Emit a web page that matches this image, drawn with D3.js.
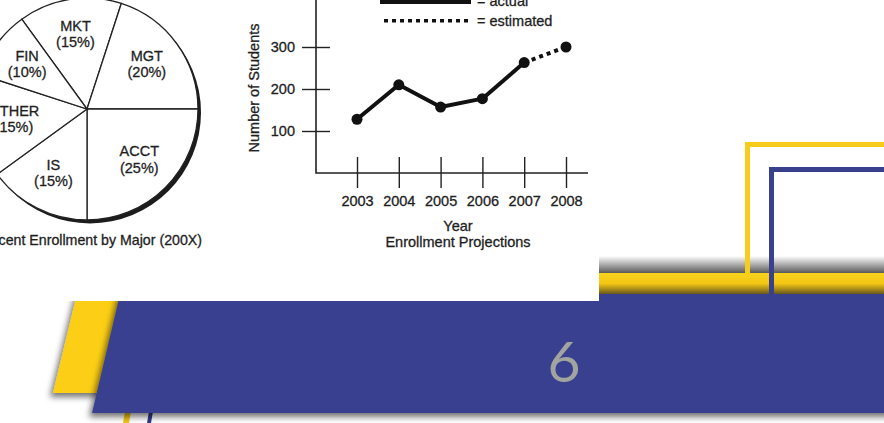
<!DOCTYPE html>
<html>
<head>
<meta charset="utf-8">
<script src="https://cdn.jsdelivr.net/npm/d3@7"></script>
<style>
  html,body{margin:0;padding:0;background:#fff;overflow:hidden;}
  svg{display:block;}
  .lbl{font-family:"Liberation Sans",Arial,sans-serif;font-size:14.5px;fill:#1e1e1e;stroke:#1e1e1e;stroke-width:0.3px;}
</style>
</head>
<body>
<script>
// pie data
const majors = ["MKT", "MGT", "ACCT", "IS", "OTHER", "FIN"];
const shares = [15, 20, 25, 15, 15, 10];

// line data
const years = [2003, 2004, 2005, 2006, 2007, 2008];
const students = [128, 210, 157, 177, 263, 300];
const lastActualYear = 2007;
const yTicks = [100, 200, 300];

const W = 884, H = 423;
const svg = d3.select("body").append("svg")
    .attr("width", W)
    .attr("height", H);

const defs = svg.append("defs");

// gradients and shadow for the slide decoration
let g1 = defs.append("linearGradient").attr("id", "shade").attr("x1", 0).attr("y1", 0).attr("x2", 0).attr("y2", 1);
g1.append("stop").attr("offset", "0%").attr("stop-color", "#fff");
g1.append("stop").attr("offset", "100%").attr("stop-color", "#5a5a5a");

let g2 = defs.append("linearGradient").attr("id", "ybar").attr("x1", 0).attr("y1", 0).attr("x2", 0).attr("y2", 1);
g2.append("stop").attr("offset", "0%").attr("stop-color", "#fad41e");
g2.append("stop").attr("offset", "50%").attr("stop-color", "#f3c614");
g2.append("stop").attr("offset", "100%").attr("stop-color", "#6b5a1e");

let f = defs.append("filter").attr("id", "drop").attr("x", "-20%").attr("y", "-20%").attr("width", "140%").attr("height", "150%");
f.append("feDropShadow").attr("dx", -3).attr("dy", 4).attr("stdDeviation", 3)
    .attr("flood-color", "#000").attr("flood-opacity", 0.55);

// slide decoration
svg.append("rect").attr("x", 100).attr("y", 256).attr("width", W).attr("height", 17).attr("fill", "url(#shade)");
svg.append("path").attr("d", "M747.5,273V144.5H890").attr("fill", "none").attr("stroke", "#f6cd1d").attr("stroke-width", 5);
svg.append("rect").attr("x", 100).attr("y", 273).attr("width", W).attr("height", 21).attr("fill", "url(#ybar)");

// small strokes under the band
svg.append("path").attr("d", "M127,400L133,400L129,423L123,423Z").attr("fill", "#f2c519");
svg.append("path").attr("d", "M151,400L155,400L151,423L147,423Z").attr("fill", "#2f3a86");

// slanted yellow tab + blue band
svg.append("path").attr("d", "M77,294L130,294L108,393L53,393Z")
    .attr("fill", "#fccf12").attr("filter", "url(#drop)");
svg.append("path").attr("d", "M120,294L900,294L900,413L92,413Z")
    .attr("fill", "#38418f").attr("filter", "url(#drop)");
svg.append("path").attr("d", "M771.5,300V169.5H890").attr("fill", "none").attr("stroke", "#3a418c").attr("stroke-width", 5);

svg.append("text")
    .attr("x", 564).attr("y", 382)
    .attr("text-anchor", "middle")
    .attr("font-family", "Lato, 'Open Sans', sans-serif")
    .attr("font-size", 57)
    .attr("fill", "#a2a49f")
    .text("6");

// the pasted picture
svg.append("rect").attr("x", 0).attr("y", 0).attr("width", 599).attr("height", 301).attr("fill", "#fff");

// ---------- pie ----------
const pieData = majors.map((m, i) => ({ major: m, share: shares[i] }));
const R = 111;
const pie = d3.pie().sort(null).value(d => d.share)
    .startAngle(-36 * Math.PI / 180)
    .endAngle(324 * Math.PI / 180);
const arc = d3.arc().innerRadius(0).outerRadius(R);
const labelArc = d3.arc().innerRadius(74).outerRadius(74);

const pg = svg.append("g").attr("transform", "translate(87,109)");
pg.append("circle").attr("cx", 3).attr("cy", 3.5).attr("r", R).attr("fill", "#1c1c1c");
pg.selectAll("path.slice")
    .data(pie(pieData))
    .enter()
    .append("path")
    .attr("class", "slice")
    .attr("d", arc)
    .attr("fill", "#fff")
    .attr("stroke", "#222")
    .attr("stroke-width", 1.3);

let lab = pg.selectAll("text.pl")
    .data(pie(pieData))
    .enter()
    .append("text")
    .attr("class", "lbl pl")
    .attr("text-anchor", "middle")
    .attr("transform", d => `translate(${labelArc.centroid(d)})`);
lab.append("tspan").attr("x", 0).attr("y", -5).text(d => d.data.major);
lab.append("tspan").attr("x", 0).attr("y", 11.5).text(d => `(${d.data.share}%)`);

svg.append("text")
    .attr("class", "lbl")
    .attr("x", 202).attr("y", 245)
    .attr("text-anchor", "end")
    .style("font-size", "14.2px")
    .text("Percent Enrollment by Major (200X)");

// ---------- line chart ----------
const x = d3.scaleLinear().domain([2003, 2008]).range([357, 566]);
const y = d3.scaleLinear().domain([0, 300]).range([173, 47]);

// axis frame
svg.append("path")
    .attr("d", `M316,0V${y(0)}H588`)
    .attr("fill", "none").attr("stroke", "#222").attr("stroke-width", 1.6);

let yAxis = svg.append("g")
    .attr("transform", "translate(316,0)")
    .call(d3.axisLeft(y).tickValues(yTicks).tickSize(14).tickPadding(7));
yAxis.select(".domain").remove();
yAxis.selectAll("line").attr("x1", -14).attr("x2", 14).attr("stroke", "#222").attr("stroke-width", 1.4);
yAxis.selectAll("text").attr("class", "lbl").attr("fill", null);
yAxis.attr("font-size", null).attr("font-family", null);

let xAxis = svg.append("g")
    .attr("transform", `translate(0,${y(0)})`)
    .call(d3.axisBottom(x).tickValues(years).tickFormat(d3.format("d")).tickSize(15));
xAxis.select(".domain").remove();
xAxis.selectAll("line").attr("y1", -16).attr("y2", 15).attr("stroke", "#222").attr("stroke-width", 1.4);
xAxis.selectAll("text").attr("class", "lbl").attr("fill", null).attr("y", 22.7);
xAxis.attr("font-size", null).attr("font-family", null);

// titles
svg.append("text")
    .attr("class", "lbl")
    .attr("transform", "translate(259,88) rotate(-90)")
    .attr("text-anchor", "middle")
    .text("Number of Students");
svg.append("text").attr("class", "lbl").attr("x", 458).attr("y", 231).attr("text-anchor", "middle").text("Year");
svg.append("text").attr("class", "lbl").attr("x", 458).attr("y", 246.5).attr("text-anchor", "middle").text("Enrollment Projections");

// lines
const pts = years.map((yr, i) => ({ year: yr, value: students[i] }));
const line = d3.line().x(d => x(d.year)).y(d => y(d.value));

svg.append("path")
    .datum(pts.filter(d => d.year <= lastActualYear))
    .attr("d", line)
    .attr("fill", "none")
    .attr("stroke", "#111")
    .attr("stroke-width", 4)
    .attr("stroke-linejoin", "round");

svg.append("path")
    .datum(pts.filter(d => d.year >= lastActualYear))
    .attr("d", line)
    .attr("fill", "none")
    .attr("stroke", "#111")
    .attr("stroke-width", 4)
    .attr("stroke-dasharray", "4 4");

svg.selectAll("circle.pt")
    .data(pts)
    .enter()
    .append("circle")
    .attr("class", "pt")
    .attr("cx", d => x(d.year))
    .attr("cy", d => y(d.value))
    .attr("r", 5.5)
    .attr("fill", "#111");

// legend
svg.append("line").attr("x1", 380).attr("x2", 471).attr("y1", 0.5).attr("y2", 0.5)
    .attr("stroke", "#111").attr("stroke-width", 7);
svg.append("text").attr("class", "lbl").attr("x", 477).attr("y", 6).text("= actual");
svg.append("line").attr("x1", 384).attr("x2", 472).attr("y1", 20.7).attr("y2", 20.7)
    .attr("stroke", "#111").attr("stroke-width", 3.5).attr("stroke-dasharray", "4 4");
svg.append("text").attr("class", "lbl").attr("x", 477).attr("y", 25.5).text("= estimated");
</script>
</body>
</html>
